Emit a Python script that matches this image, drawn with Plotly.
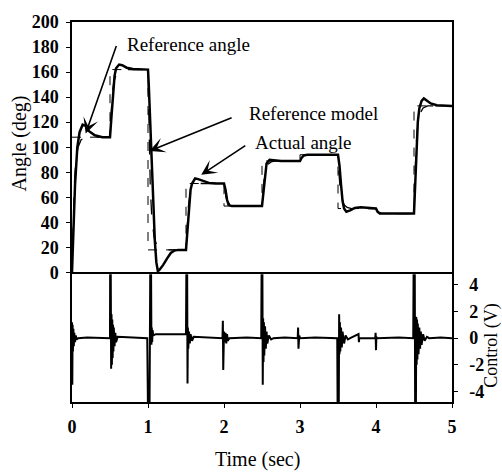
import plotly.graph_objects as go

# ---------------- data ----------------
# Reference angle: step command (deg), value holds from each time to the next
ref_t = [0.0, 0.5, 1.0, 1.5, 2.0, 2.5, 3.0, 3.5, 4.0, 4.5, 5.0]
ref_v = [108, 162, 18, 71, 53, 89, 94, 51, 47, 133, 133]

# Reference model output (deg)
model_t = [0.00, 0.01, 0.02, 0.03, 0.05, 0.08, 0.12, 0.18,
           0.50, 0.51, 0.52, 0.53, 0.55, 0.58, 0.62, 0.68,
           1.00, 1.01, 1.02, 1.03, 1.05, 1.08, 1.12, 1.18,
           1.50, 1.51, 1.52, 1.53, 1.55, 1.58, 1.62, 1.68,
           2.00, 2.01, 2.02, 2.03, 2.05, 2.08, 2.12, 2.18,
           2.50, 2.51, 2.52, 2.53, 2.55, 2.58, 2.62, 2.68,
           3.00, 3.01, 3.02, 3.03, 3.05, 3.08, 3.12, 3.18,
           3.50, 3.51, 3.52, 3.53, 3.55, 3.58, 3.62, 3.68,
           4.00, 4.01, 4.02, 4.03, 4.05, 4.08, 4.12, 4.18,
           4.50, 4.51, 4.52, 4.53, 4.55, 4.58, 4.62, 4.68, 5.00]
model_v = [0, 32, 54, 70, 89, 100, 106, 108,
           108, 124, 135, 143, 152, 158, 161, 162,
           162, 119, 90, 68, 44, 28, 21, 18,
           18, 34, 44.5, 52, 61.5, 67, 70, 71,
           71, 65.6, 62, 59.3, 56.2, 54.3, 53.4, 53,
           53, 63.8, 71, 76.4, 82.5, 86.5, 88.3, 89,
           89, 90.5, 91.5, 92.3, 93.1, 93.7, 93.9, 94,
           94, 81, 72.5, 66, 58.7, 54, 51.9, 51,
           51, 49.8, 49, 48.4, 47.7, 47.3, 47.1, 47,
           47, 72.8, 90, 102.9, 117.5, 127, 131.3, 133, 133]

# Actual angle (deg)
act_t = [0.00, 0.02, 0.04, 0.07, 0.10, 0.14, 0.18, 0.22, 0.30, 0.40, 0.50,
         0.52, 0.54, 0.56, 0.58, 0.62, 0.66, 0.72, 0.80, 0.90, 1.00,
         1.01, 1.03, 1.05, 1.07, 1.09, 1.11, 1.13, 1.15, 1.20, 1.25, 1.30, 1.35, 1.40, 1.50,
         1.52, 1.54, 1.56, 1.58, 1.62, 1.66, 1.72, 1.80, 1.90, 2.00,
         2.02, 2.04, 2.06, 2.10, 2.50,
         2.52, 2.54, 2.56, 2.60, 2.65, 2.75, 3.00,
         3.02, 3.05, 3.10, 3.50,
         3.52, 3.54, 3.56, 3.58, 3.61, 3.66, 3.72, 3.80, 3.90, 3.98, 4.00,
         4.02, 4.05, 4.50,
         4.51, 4.53, 4.55, 4.57, 4.60, 4.63, 4.67, 4.72, 4.80, 4.90, 5.00]
act_v = [0, 30, 70, 100, 112, 118, 117, 113, 109.5, 108, 108,
         125, 145, 157, 163, 166, 165.5, 163.5, 162.5, 162, 162,
         150, 115, 80, 50, 25, 8, 1, 2, 6, 11, 15.5, 17.5, 18, 18,
         35, 55, 66, 71, 75, 74.5, 73, 71.5, 71, 71,
         66, 58, 54, 53, 53,
         65, 80, 87, 90, 89.5, 89, 89,
         91.5, 93.5, 94, 94,
         85, 70, 57, 51, 48.5, 49.5, 51.5, 52, 51.5, 51, 51,
         48.5, 47, 47,
         60, 95, 120, 131, 137, 139, 137.5, 135, 133.5, 133, 133]

# Control voltage (V)
ctl_t = [0.000, 0.004, 0.008, 0.012, 0.018, 0.024, 0.030, 0.040, 0.050, 0.060, 0.080, 0.200, 0.350, 0.490,
         0.500, 0.502, 0.510, 0.515, 0.520, 0.525, 0.530, 0.535, 0.540, 0.545, 0.550, 0.560, 0.570, 0.580, 0.600, 0.800, 0.990,
         1.000, 1.020, 1.030, 1.040, 1.045, 1.050, 1.055, 1.060, 1.070, 1.100, 1.300, 1.490,
         1.500, 1.505, 1.515, 1.520, 1.525, 1.530, 1.540, 1.550, 1.560, 1.580, 1.600, 1.800, 1.980,
         1.985, 1.990, 2.000, 2.010, 2.020, 2.030, 2.040, 2.050, 2.070, 2.300, 2.490,
         2.495, 2.505, 2.510, 2.515, 2.520, 2.525, 2.530, 2.540, 2.550, 2.560, 2.570, 2.590, 2.620, 2.650, 2.800, 2.970,
         2.975, 2.980, 2.990, 3.000, 3.200, 3.490,
         3.495, 3.510, 3.515, 3.520, 3.525, 3.530, 3.540, 3.550, 3.560, 3.580, 3.600, 3.630, 3.660, 3.770, 3.775, 3.780, 3.990,
         3.995, 4.000, 4.005, 4.010, 4.300, 4.490,
         4.495, 4.510, 4.515, 4.525, 4.530, 4.535, 4.540, 4.545, 4.550, 4.560, 4.570, 4.580, 4.590, 4.600, 4.620, 4.640, 4.670, 4.700, 4.850, 5.000]
ctl_v = [1.2, -3.5, 1.0, -1.0, 0.7, -0.6, 0.4, -0.3, 0.2, -0.1, 0.0, 0.05, 0.0, 0.0,
         0.0, 5.5, 4.8, -2.3, 1.8, -2.0, 1.4, -1.5, 1.0, -1.0, 0.8, -0.6, 0.4, -0.3, 0.1, 0.05, 0.0,
         -5.5, -5.5, 5.5, 5.5, -0.5, 0.8, -0.3, 0.6, 0.2, 0.3, 0.3, 0.3,
         0.3, 5.5, 5.5, -3.4, 0.8, -0.8, 0.5, -0.4, 0.3, -0.2, 0.1, 0.05, 0.0,
         1.3, -2.4, 0.5, -0.3, 0.4, -0.4, 0.3, -0.2, 0.0, 0.05, 0.0,
         5.5, 5.5, -3.5, 1.5, -1.8, 1.2, -1.3, 0.9, -0.8, 0.5, -0.4, 0.2, -0.1, 0.0, 0.05, 0.0,
         0.8, -0.8, 0.2, 0.0, 0.05, 0.0,
         -5.5, -5.5, 1.8, -1.2, 1.2, -1.0, 0.8, -0.7, 0.5, -0.4, 0.2, -0.1, 0.0, 0.3, -0.3, 0.0, 0.0,
         0.4, -0.9, 0.1, 0.0, 0.05, 0.0,
         5.5, 5.5, -5.5, -5.5, 1.6, -2.0, 1.4, -1.6, 1.1, -1.2, 0.8, -0.8, 0.5, -0.5, 0.3, -0.2, 0.1, 0.0, 0.05, 0.0]

angle_ticks = [0, 20, 40, 60, 80, 100, 120, 140, 160, 180, 200]
time_ticks = [0, 1, 2, 3, 4, 5]
ctl_ticks = [4, 2, 0, -2, -4]
ctl_ticktext = ["4", "2", "0", "-2", "-4"]

# ---------------- figure ----------------
FONT = "Liberation Serif"
fig = go.Figure()
fig.add_trace(go.Scatter(x=ref_t, y=ref_v, mode="lines", name="Reference angle",
                         line=dict(shape="hv", dash="dash", width=1, color="black"),
                         xaxis="x", yaxis="y"))
fig.add_trace(go.Scatter(x=model_t, y=model_v, mode="lines", name="Reference model",
                         line=dict(dash="longdash", width=1.3, color="black"),
                         xaxis="x", yaxis="y"))
fig.add_trace(go.Scatter(x=act_t, y=act_v, mode="lines", name="Actual angle",
                         line=dict(width=2.5, color="black"),
                         xaxis="x", yaxis="y"))
fig.add_trace(go.Scatter(x=ctl_t, y=ctl_v, mode="lines", name="Control",
                         line=dict(width=2, color="black"),
                         xaxis="x2", yaxis="y2"))

axis_common = dict(showline=True, linecolor="black", linewidth=1.5, mirror=True,
                   showgrid=False, zeroline=False)
tickfont = dict(family=FONT, size=18, color="black", weight="bold")

fig.update_layout(
    width=502, height=472,
    margin=dict(l=72, r=50, t=15, b=70),
    paper_bgcolor="white", plot_bgcolor="white",
    showlegend=False,
    xaxis=dict(domain=[0, 1], range=[0, 5], anchor="y", showticklabels=False,
               ticks="", **axis_common),
    yaxis=dict(domain=[0.341, 1], range=[0, 200], anchor="x", tickvals=angle_ticks,
               ticks="outside", ticklen=4, tickwidth=1.2, tickcolor="black",
               tickfont=tickfont, ticklabelstandoff=4, **axis_common),
    xaxis2=dict(domain=[0, 1], range=[0, 5], anchor="y2", matches="x",
                tickvals=time_ticks, ticks="outside", ticklen=4, tickwidth=1.2,
                tickcolor="black", tickfont=tickfont, ticklabelstandoff=4, **axis_common),
    yaxis2=dict(domain=[0, 0.336], range=[-4.8, 4.8], anchor="x2", side="right",
                tickvals=ctl_ticks, ticktext=ctl_ticktext, ticks="outside", ticklen=4,
                tickwidth=1.2, tickcolor="black", tickfont=tickfont,
                ticklabelstandoff=8, **axis_common),
)

txt = dict(family=FONT, size=19, color="black")
ann = [
    # axis titles
    dict(text="Angle (deg)", xref="paper", yref="paper", x=-0.137, y=0.68,
         xanchor="center", yanchor="middle",
         textangle=-90, showarrow=False, font=dict(family=FONT, size=20, color="black")),
    dict(text="Time (sec)", xref="paper", yref="paper", x=0.489, y=-0.152,
         xanchor="center", yanchor="middle",
         showarrow=False, font=dict(family=FONT, size=20, color="black")),
    dict(text="Control (V)", xref="paper", yref="paper", x=1.102, y=0.15,
         xanchor="center", yanchor="middle",
         textangle=-90, showarrow=False, font=dict(family=FONT, size=18, color="black")),
    # labels
    dict(text="Reference angle", xref="x", yref="y", x=0.70, y=182,
         xanchor="left", yanchor="middle", showarrow=False, font=txt),
    dict(text="Reference model", xref="x", yref="y", x=2.30, y=127,
         xanchor="left", yanchor="middle", showarrow=False, font=txt),
    dict(text="Actual angle", xref="x", yref="y", x=2.38, y=103.5,
         xanchor="left", yanchor="middle", showarrow=False, font=txt),
    # arrows
    dict(text="", xref="x", yref="y", axref="x", ayref="y", x=0.18, y=111,
         ax=0.59, ay=182, showarrow=True, arrowhead=3, arrowsize=1.6,
         arrowwidth=1.6, arrowcolor="black"),
    dict(text="", xref="x", yref="y", axref="x", ayref="y", x=1.02, y=97,
         ax=2.12, ay=124, showarrow=True, arrowhead=3, arrowsize=1.6,
         arrowwidth=1.6, arrowcolor="black"),
    dict(text="", xref="x", yref="y", axref="x", ayref="y", x=1.70, y=78,
         ax=2.30, ay=102, showarrow=True, arrowhead=3, arrowsize=1.6,
         arrowwidth=1.6, arrowcolor="black"),
]
fig.update_layout(annotations=ann)

fig.write_html("out.html")
